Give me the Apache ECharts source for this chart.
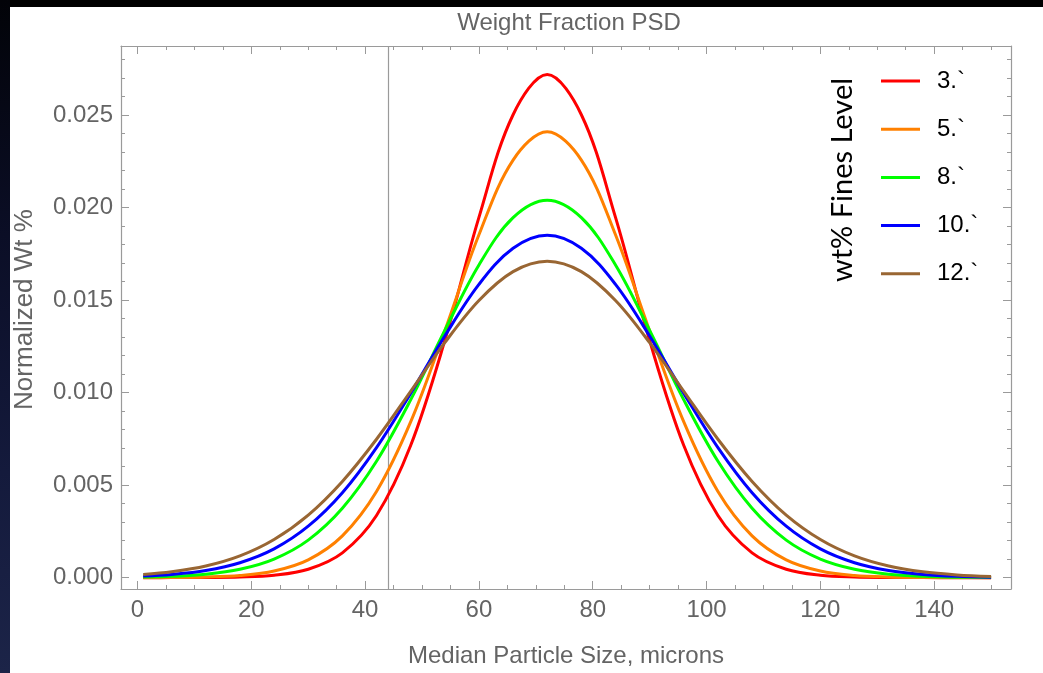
<!DOCTYPE html>
<html>
<head>
<meta charset="utf-8">
<script src="https://cdn.jsdelivr.net/npm/echarts@6/dist/echarts.min.js"></script>
<style>
  html, body { margin: 0; padding: 0; background: #000; }
  #wrap { position: relative; width: 1043px; height: 673px; overflow: hidden; background: #000; }
  #leftStrip { position: absolute; left: 0; top: 0; width: 10px; height: 673px;
    background: linear-gradient(to bottom, #020308 0%, #0b0e26 35%, #141a3c 70%, #1c2448 100%); }
  #paper { position: absolute; left: 10px; top: 7px; right: 0; bottom: 0; background: #fff; }
  #chart { position: absolute; left: 0; top: 0; width: 1043px; height: 673px; }
</style>
</head>
<body>
<div id="wrap">
  <div id="leftStrip"></div>
  <div id="paper"></div>
  <div id="chart"></div>
</div>
<script>
// ---- data ----
const titleText = 'Weight Fraction PSD';
const xAxisName = 'Median Particle Size, microns';
const yAxisName = 'Normalized Wt %';
const legendTitle = 'wt% Fines Level';
const seriesNames = ['3.`', '5.`', '8.`', '10.`', '12.`'];
const seriesColors = ['#ff0000', '#ff8000', '#00ff00', '#0000ff', '#996633'];
const markerX = 44;

const xValues = [1, 6, 12, 18, 24, 30, 36, 42, 48, 54, 60, 66, 72, 78, 84, 90, 96, 102, 108, 114, 120, 126, 132, 138, 144, 150];
const fines3 = [0, 0.000001, 0.000006, 0.000031, 0.000129, 0.000452, 0.00134, 0.00336, 0.00714, 0.01281, 0.01947, 0.02502, 0.0272,
  0.02502, 0.01947, 0.01281, 0.00714, 0.00336, 0.00134, 0.000452, 0.000129, 0.000031, 0.000006, 0.000001, 0, 0];
const fines5 = [0.0000024, 0.0000085, 0.000034, 0.000118, 0.000359, 0.000963, 0.00226, 0.00466, 0.00842, 0.01334, 0.01853, 0.02257, 0.0241,
  0.02257, 0.01853, 0.01334, 0.00842, 0.00466, 0.00226, 0.000963, 0.000359, 0.000118, 0.000034, 0.0000085, 0.0000019, 0.0000004];
const fines8 = [0.000028, 0.000069, 0.000184, 0.000451, 0.001004, 0.00203, 0.00375, 0.00629, 0.00961, 0.01336, 0.0169, 0.01946, 0.0204,
  0.01946, 0.0169, 0.01336, 0.00961, 0.00629, 0.00375, 0.00203, 0.001004, 0.000451, 0.000184, 0.000069, 0.000023, 0.000007];
const fines10 = [0.000082, 0.000171, 0.000385, 0.000804, 0.001552, 0.00278, 0.00459, 0.00703, 0.00996, 0.01306, 0.01585, 0.0178, 0.0185,
  0.0178, 0.01585, 0.01306, 0.00996, 0.00703, 0.00459, 0.00278, 0.001552, 0.000804, 0.000385, 0.000171, 0.00007, 0.000027];
const fines12 = [0.000167, 0.000313, 0.000627, 0.001174, 0.00206, 0.00338, 0.0052, 0.00748, 0.01007, 0.0127, 0.01498, 0.01654, 0.0171,
  0.01654, 0.01498, 0.0127, 0.01007, 0.00748, 0.0052, 0.00338, 0.00206, 0.001174, 0.000627, 0.000313, 0.000146, 0.000064];
const allSeries = [fines3, fines5, fines8, fines10, fines12];

// axis ranges (plot range of the frame)
const X_MIN = -2.9, X_MAX = 153.5;
const Y_MIN = -0.000614, Y_MAX = 0.028735;

// ---- chart ----
const FRAME = '#9a9a9a';
const LABEL = '#646464';
const FONT = '"Liberation Sans", Arial, sans-serif';

const chart = echarts.init(document.getElementById('chart'), null, { renderer: 'canvas' });

function isMult(v, step) { return Math.abs(v / step - Math.round(v / step)) < 1e-6; }

function xAx(pos, split, len, opts) {
  return Object.assign({
    type: 'value', position: pos, min: X_MIN, max: X_MAX, splitNumber: split,
    axisLine: { show: false, onZero: false },
    axisTick: { show: true, inside: true, length: len, lineStyle: { color: FRAME, width: 1 } },
    axisLabel: { show: false }, splitLine: { show: false }
  }, opts || {});
}
function yAx(pos, split, len, opts) {
  return Object.assign({
    type: 'value', position: pos, min: Y_MIN, max: Y_MAX, splitNumber: split,
    axisLine: { show: false, onZero: false },
    axisTick: { show: true, inside: true, length: len, lineStyle: { color: FRAME, width: 1 } },
    axisLabel: { show: false }, splitLine: { show: false }
  }, opts || {});
}

const option = {
  animation: false,
  backgroundColor: 'transparent',
  title: {
    text: titleText, left: 564, top: 6, textAlign: 'center',
    textStyle: { fontFamily: FONT, fontSize: 24, fontWeight: 'normal', color: LABEL }
  },
  grid: { left: 121, right: 32, top: 46, bottom: 77, containLabel: false },
  legend: {
    orient: 'vertical', left: 881, top: 67, padding: 0,
    icon: 'rect', itemWidth: 39, itemHeight: 3, itemGap: 20.2,
    data: seriesNames,
    textStyle: { fontFamily: FONT, fontSize: 24, color: '#000', lineHeight: 28, padding: [0, 0, 0, 12] }
  },
  graphic: [{
    type: 'text', x: 843, y: 180, rotation: Math.PI / 2,
    style: { text: legendTitle, font: '29px Lato, "Open Sans", sans-serif', fill: '#000',
      textAlign: 'center', textVerticalAlign: 'middle' }
  }],
  xAxis: [
    xAx('bottom', 8, 8, {
      axisLine: { show: true, onZero: false, lineStyle: { color: FRAME, width: 1.2 } },
      axisLabel: { show: true, margin: 9, color: LABEL, fontFamily: FONT, fontSize: 24,
        showMinLabel: false, showMaxLabel: false,
        formatter: v => isMult(v, 20) ? String(Math.round(v)) : '' },
      name: xAxisName, nameLocation: 'middle', nameGap: 55,
      nameTextStyle: { fontFamily: FONT, fontSize: 24, color: LABEL }
    }),
    xAx('bottom', 31, 4),
    xAx('top', 8, 8, { axisLine: { show: true, onZero: false, lineStyle: { color: FRAME, width: 1.2 } } }),
    xAx('top', 31, 4)
  ],
  yAxis: [
    yAx('left', 6, 8, {
      axisLine: { show: true, onZero: false, lineStyle: { color: FRAME, width: 1.2 } },
      axisLabel: { show: true, margin: 8, color: LABEL, fontFamily: FONT, fontSize: 24,
        showMinLabel: false, showMaxLabel: false,
        formatter: v => isMult(v, 0.005) ? v.toFixed(3) : '' },
      name: yAxisName, nameLocation: 'middle', nameGap: 83, nameRotate: 90,
      nameTextStyle: { fontFamily: FONT, fontSize: 26, color: LABEL, padding: [0, 0, 0, 16] }
    }),
    yAx('left', 29, 4),
    yAx('right', 6, 8, { axisLine: { show: true, onZero: false, lineStyle: { color: FRAME, width: 1.2 } } }),
    yAx('right', 29, 4)
  ],
  series: allSeries.map((ys, i) => ({
    name: seriesNames[i], type: 'line', xAxisIndex: 0, yAxisIndex: 0,
    data: xValues.map((x, j) => [x, ys[j]]),
    smooth: 0.35, showSymbol: false, symbol: 'none',
    lineStyle: { color: seriesColors[i], width: 3 },
    itemStyle: { color: seriesColors[i] },
    z: 3 + i,
    markLine: i === 0 ? {
      silent: true, symbol: 'none', label: { show: false },
      lineStyle: { color: FRAME, width: 1.2, type: 'solid' },
      data: [{ xAxis: markerX }], z: 1
    } : undefined
  }))
};
chart.setOption(option);
</script>
</body>
</html>
